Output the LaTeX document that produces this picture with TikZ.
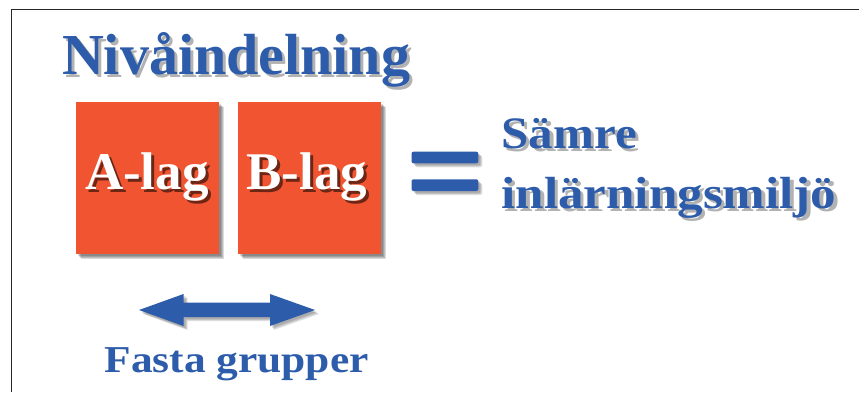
\documentclass[tikz,border=0pt]{standalone}
\usepackage{fontspec}
\setmainfont{Liberation Serif}
\definecolor{tblue}{RGB}{45,92,170}
\definecolor{torange}{RGB}{240,84,48}
% text with a drop shadow: #1 = shadow colour, #2 = text
\newcommand\dropshadowtext[2]{%
 \makebox[0pt][l]{\kern3pt\raisebox{-3pt}{\textcolor{#1}{#2}}}%
 #2}
\newcommand\wshadow[1]{\dropshadowtext{black!30}{#1}}
\newcommand\oshadow[1]{\dropshadowtext{torange!45!black}{#1}}
\begin{document}
\begin{tikzpicture}[x=1pt,y=-1pt,
  txt/.style={anchor=base west, inner sep=0pt, outer sep=0pt},
  bluetxt/.style={txt, text=tblue},
  whitetxt/.style={txt, text=white},
  box/.style={fill=torange, draw=none, inner sep=0pt, outer sep=0pt, anchor=north west, minimum width=143pt, minimum height=152.5pt},
  sh/.style={fill=black, opacity=0.14, draw=none},
  bar/.style={fill=tblue, rounded corners=2pt},
  barsh/.style={fill=black, opacity=0.12, rounded corners=2pt},
  frame/.style={line width=1.5pt, draw=black!85},
  fTitle/.style={font=\bfseries\fontsize{58}{58}\selectfont},
  fLag/.style={font=\bfseries\fontsize{53}{53}\selectfont},
  fRight/.style={font=\bfseries\fontsize{45}{45}\selectfont},
  fBottom/.style={font=\bfseries\fontsize{38}{38}\selectfont},
]
\useasboundingbox (0,0) rectangle (859,392);
\fill[white] (0,0) rectangle (859,392);
\draw[frame] (11.5,392) |- (859,9.5);

% title
\node[bluetxt, fTitle] (title) at (62,74) {\wshadow{Nivåindelning}};

% boxes with soft shadows
\foreach \d in {2,3,4,5}{
  \fill[sh] (76+\d,101.5+\d) rectangle (219+\d,254+\d);
  \fill[sh] (237.5+\d,101.5+\d) rectangle (380.5+\d,254+\d);
}
\node[box] (A) at (76,101.5) {};
\node[box] (B) at (237.5,101.5) {};
\node[whitetxt, fLag] (At) at (85,189) {\oshadow{A-lag}};
\node[whitetxt, fLag] (Bt) at (246.5,189) {\oshadow{B-lag}};

% equals sign
\foreach \d in {2,3,4}{
  \fill[barsh] (411.5+\d,151.7+\d) rectangle (478.3+\d,163.3+\d);
  \fill[barsh] (411.5+\d,179.3+\d) rectangle (478.3+\d,191+\d);
}
\fill[bar] (411.5,151.7) rectangle (478.3,163.3);
\fill[bar] (411.5,179.3) rectangle (478.3,191);

% right text
\node[bluetxt, fRight] (s1) at (501.5,148) {\scalebox{1.09}[1]{\wshadow{Sämre}}};
\node[bluetxt, fRight] (s2) at (501.5,208) {\scalebox{1.135}[1]{\wshadow{inlärningsmiljö}}};

% double arrow
\foreach \d in {2,3,4}{
  \fill[barsh, rounded corners=0pt] (139+\d,310+\d) -- (183.5+\d,294+\d) -- (183.5+\d,302.5+\d) -- (270+\d,302.5+\d) -- (270+\d,294+\d) -- (315+\d,310+\d) -- (270+\d,326+\d) -- (270+\d,317+\d) -- (183.5+\d,317+\d) -- (183.5+\d,326+\d) -- cycle;
}
\fill[tblue] (139,310) -- (183.5,294) -- (183.5,302.5) -- (270,302.5) -- (270,294) -- (315,310) -- (270,326) -- (270,317) -- (183.5,317) -- (183.5,326) -- cycle;

% bottom text
\node[bluetxt, fBottom] (fg) at (104.5,372) {\scalebox{1.143}[1]{Fasta grupper}};
\end{tikzpicture}
\end{document}
